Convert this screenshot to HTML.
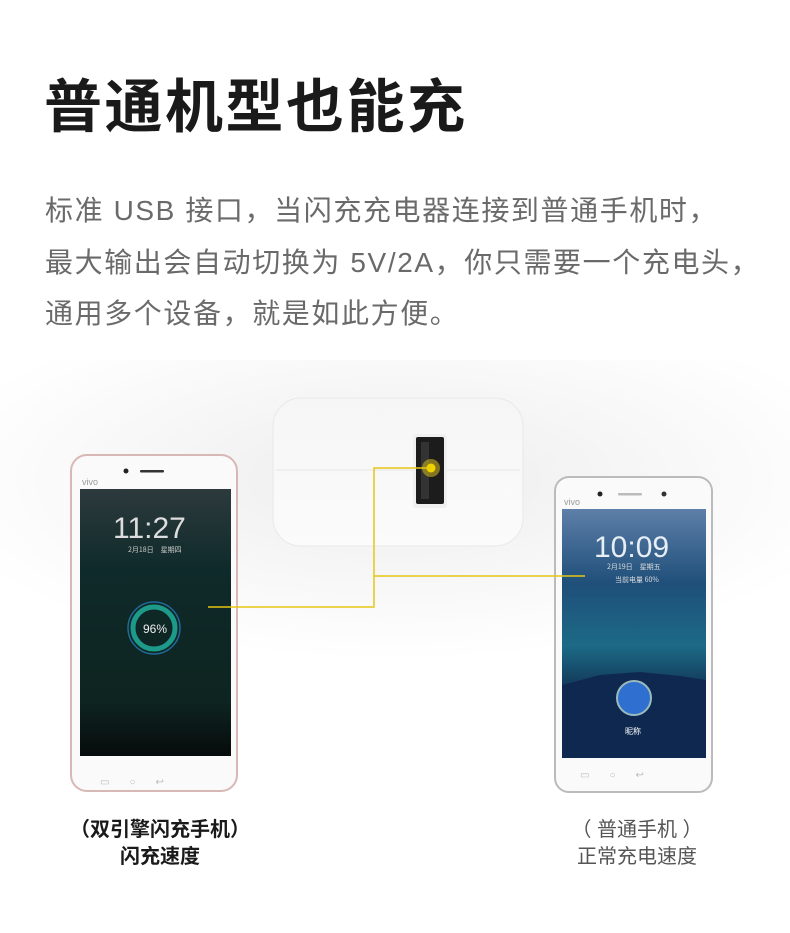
<!DOCTYPE html>
<html><head><meta charset="utf-8"><style>
body{margin:0;width:790px;height:933px;background:#fff;position:relative;overflow:hidden;font-family:"Liberation Sans","Noto Sans CJK SC",sans-serif}
.t{position:absolute;left:44px;top:70px;font-size:58px;font-weight:bold;color:#1a1a1a;letter-spacing:2.5px;line-height:76px}
.p{position:absolute;left:45px;top:185px;font-size:28px;color:#6a6a6a;line-height:51.5px;white-space:nowrap;letter-spacing:1.6px}
.c{position:absolute;font-size:20px;line-height:27px;text-align:center;color:#222}
</style></head><body>
<div class="t">普通机型也能充</div>
<div class="p">标准 USB 接口，当闪充充电器连接到普通手机时，<br>最大输出会自动切换为 5V/2A，你只需要一个充电头，<br>通用多个设备，就是如此方便。</div>
<svg width="790" height="933" style="position:absolute;left:0;top:0">
<defs>
<radialGradient id="bg" cx="50%" cy="40%" r="60%"><stop offset="0" stop-color="#ededed"/><stop offset="1" stop-color="#fff"/></radialGradient>
<linearGradient id="ls" x1="0" y1="0" x2="0" y2="1"><stop offset="0" stop-color="#2d3a3d"/><stop offset=".3" stop-color="#0f2a2a"/><stop offset=".8" stop-color="#0e2420"/><stop offset="1" stop-color="#060b0b"/></linearGradient>
<linearGradient id="rs" x1="0" y1="0" x2="0" y2="1"><stop offset="0" stop-color="#5d7fa8"/><stop offset=".3" stop-color="#1f4f7a"/><stop offset=".55" stop-color="#1c6a86"/><stop offset=".7" stop-color="#133d5c"/><stop offset="1" stop-color="#0c1e3c"/></linearGradient>
<linearGradient id="ch" x1="0" y1="0" x2="0" y2="1"><stop offset="0" stop-color="#f6f6f6"/><stop offset="1" stop-color="#fbfbfb"/></linearGradient>
</defs>
<rect x="0" y="360" width="790" height="300" fill="url(#bg)"/>
<rect x="273" y="398" width="250" height="148" rx="28" fill="url(#ch)" stroke="#e8e8e8"/>
<line x1="276" y1="470" x2="520" y2="470" stroke="#e6e6e6"/>
<rect x="413" y="434" width="34" height="74" rx="3" fill="#f0f0f0"/>
<rect x="416" y="437" width="28" height="67" rx="2" fill="#1c1c1c"/>
<rect x="421" y="442" width="8" height="57" fill="#333"/>
<circle cx="431" cy="468" r="9" fill="#c8b020" opacity=".6"/>
<circle cx="431" cy="468" r="4.5" fill="#f0d400"/>
<rect x="71" y="455" width="166" height="336" rx="16" fill="#fafafa" stroke="#d8b8b4" stroke-width="2"/>
<rect x="80" y="489" width="151" height="267" fill="url(#ls)"/>
<circle cx="126" cy="471" r="2.5" fill="#222"/><rect x="140" y="470" width="24" height="2.5" rx="1" fill="#333"/>
<text x="82" y="485" font-size="9" fill="#999" font-family="Liberation Sans">vivo</text>
<text x="113" y="538" font-size="30" fill="#ddd" font-family="Liberation Sans" font-weight="300">11:27</text>
<text x="128" y="552" font-size="7" fill="#ccc" font-family="Noto Sans CJK SC">2月18日　星期四</text>
<circle cx="154" cy="628" r="21" fill="none" stroke="#1d9a8a" stroke-width="5"/>
<circle cx="154" cy="628" r="26" fill="none" stroke="#1f6a9a" stroke-width="1.5"/>
<text x="143" y="633" font-size="12" fill="#eee" font-family="Liberation Sans">96%</text>
<text x="100" y="785" font-size="10" fill="#bbb">▭　　○　　↩</text>
<rect x="555" y="477" width="157" height="315" rx="14" fill="#fafafa" stroke="#bbb" stroke-width="2"/>
<rect x="562" y="509" width="144" height="249" fill="url(#rs)"/>
<path d="M562 685 L600 675 L640 672 L680 676 L706 680 L706 758 L562 758Z" fill="#0f2850"/>
<circle cx="600" cy="494" r="2.5" fill="#222"/><rect x="618" y="493" width="24" height="2.5" rx="1" fill="#bbb"/><circle cx="664" cy="494" r="2.5" fill="#333"/>
<text x="564" y="505" font-size="9" fill="#999" font-family="Liberation Sans">vivo</text>
<text x="594" y="557" font-size="30" fill="#e8eef5" font-family="Liberation Sans" font-weight="300">10:09</text>
<text x="607" y="569" font-size="7" fill="#ddd" font-family="Noto Sans CJK SC">2月19日　星期五</text>
<text x="615" y="582" font-size="7" fill="#ddd" font-family="Noto Sans CJK SC">当前电量 60%</text>
<circle cx="634" cy="698" r="17" fill="#2e6fd0" stroke="#9bb" stroke-width="2"/>
<text x="625" y="734" font-size="8" fill="#fff" font-family="Noto Sans CJK SC">昵称</text>
<text x="580" y="778" font-size="10" fill="#bbb">▭　　○　　↩</text>
<polyline points="431,468 374,468 374,607 208,607" fill="none" stroke="#e6c615" stroke-width="1.5"/>
<polyline points="374,576 585,576" fill="none" stroke="#e6c615" stroke-width="1.5"/>
</svg>
<div class="c" style="left:40px;width:240px;top:817px;font-weight:bold;color:#1a1a1a">（双引擎闪充手机）<br>闪充速度</div>
<div class="c" style="left:517px;width:240px;top:817px;color:#555">（ 普通手机 ）<br>正常充电速度</div>
</body></html>
